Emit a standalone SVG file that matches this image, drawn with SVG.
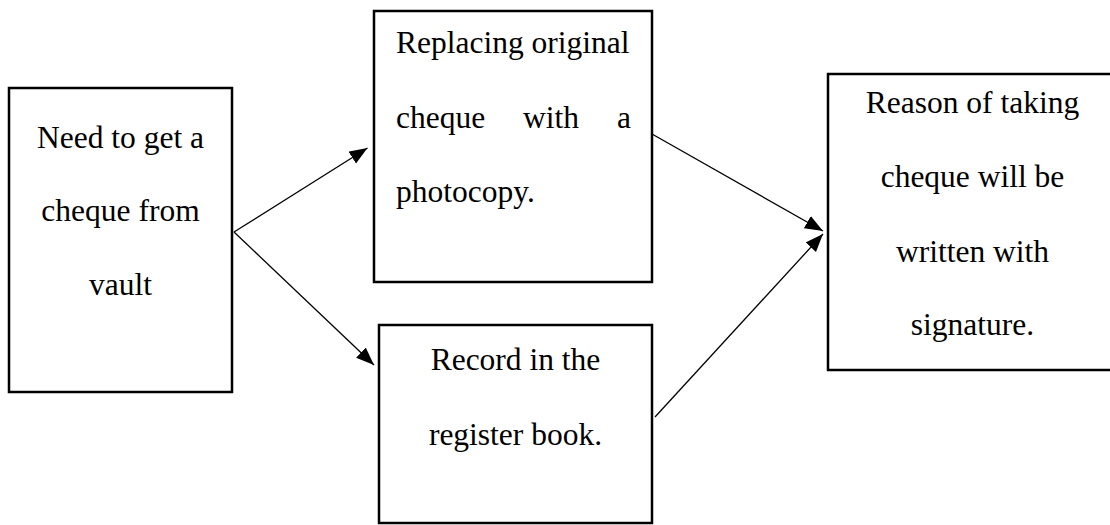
<svg xmlns="http://www.w3.org/2000/svg" width="1110" height="525" viewBox="0 0 1110 525">
<style>
.box{fill:#fff;stroke:#000;stroke-width:2.5}
.t{font-family:"Liberation Serif","Times New Roman",serif;font-size:31.5px;fill:#000}
.c{text-anchor:middle}
.edge{stroke:#000;stroke-width:1.3;fill:none;marker-end:url(#ah)}
</style>
<defs>
<marker id="ah" markerUnits="userSpaceOnUse" markerWidth="19" markerHeight="15" refX="18" refY="7" orient="auto">
<path d="M0,0 L18,7 L0,14 z" fill="#000"/>
</marker>
</defs>
<rect width="1110" height="525" fill="#fff"/>
<g id="node-need">
<rect class="box" x="9" y="88" width="223" height="304"/>
<text class="t c" x="120.5" y="148">Need to get a</text>
<text class="t c" x="120.5" y="221">cheque from</text>
<text class="t c" x="120.5" y="295">vault</text>
</g>
<g id="node-replacing">
<rect class="box" x="374" y="11" width="278" height="271"/>
<text class="t" x="396" y="53">Replacing original</text>
<text class="t" x="396" y="128">cheque</text>
<text class="t" x="523" y="128">with</text>
<text class="t" x="617" y="128">a</text>
<text class="t" x="396" y="202">photocopy.</text>
</g>
<g id="node-record">
<rect class="box" x="379" y="325" width="273" height="198"/>
<text class="t c" x="515.5" y="370">Record in the</text>
<text class="t c" x="515.5" y="445">register book.</text>
</g>
<g id="node-reason">
<rect class="box" x="828" y="74" width="290" height="296"/>
<text class="t c" x="972.5" y="113">Reason of taking</text>
<text class="t c" x="972.5" y="187">cheque will be</text>
<text class="t c" x="972.5" y="262">written with</text>
<text class="t c" x="972.5" y="335">signature.</text>
</g>
<g id="connectors">
<line class="edge" x1="234" y1="232" x2="367.5" y2="148"/>
<line class="edge" x1="234" y1="232" x2="374" y2="365"/>
<line class="edge" x1="652" y1="134" x2="823" y2="231"/>
<line class="edge" x1="655" y1="417" x2="823" y2="234"/>
</g>
</svg>
